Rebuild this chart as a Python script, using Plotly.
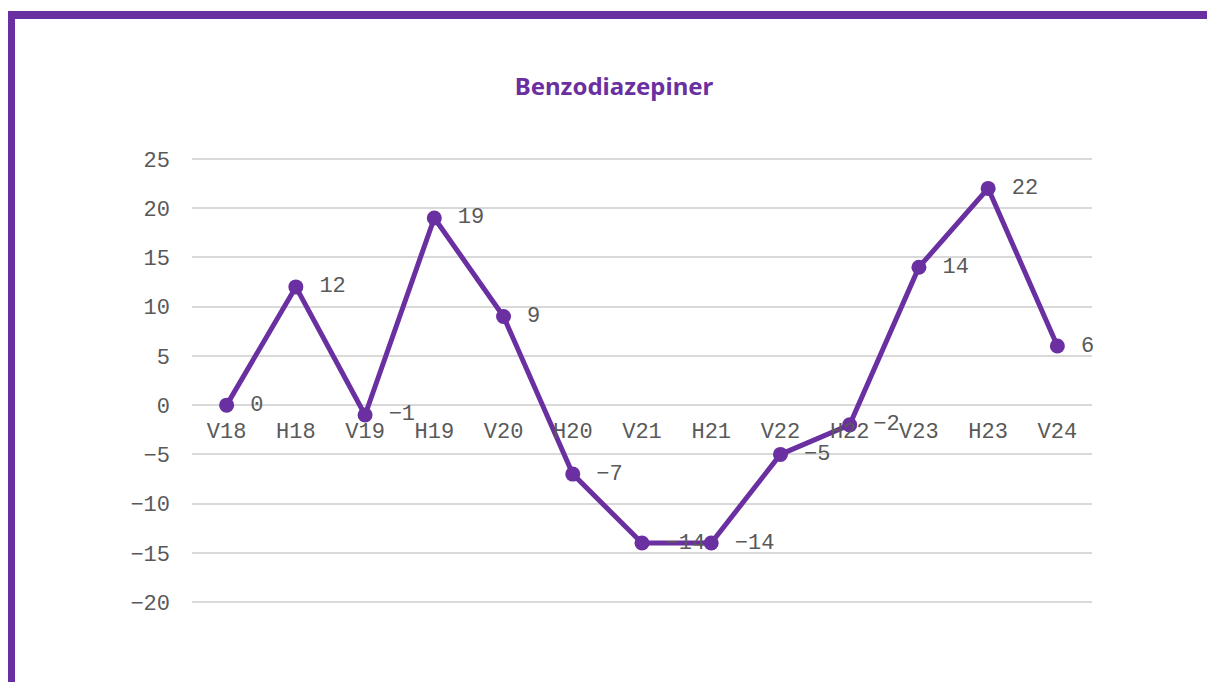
import plotly.graph_objects as go

categories = ["V18", "H18", "V19", "H19", "V20", "H20", "V21", "H21", "V22", "H22", "V23", "H23", "V24"]
values = [0, 12, -1, 19, 9, -7, -14, -14, -5, -2, 14, 22, 6]
y_ticks = [-20, -15, -10, -5, 0, 5, 10, 15, 20, 25]
y_range = [-21, 26]

# page body has an 8px margin, so the figure is drawn 8px in from the window edge
W, H = 1207, 674
L, R, T, B = 184, 123, 141, 70
PW, PH = W - L - R, H - T - B
PURPLE = "#6a2fa0"
MONO = "Liberation Mono, Courier New, monospace"
GRAY = "#595959"
FS = 22

def px_x(p):
    return (p - L) / PW

def px_y(p):
    return (H - B - p) / PH

fig = go.Figure()
fig.add_trace(go.Scatter(
    x=categories, y=values, mode="lines+markers+text",
    line=dict(color=PURPLE, width=5),
    marker=dict(color=PURPLE, size=15),
    text=["\u00a0" + str(v).replace("-", "\u2212") for v in values],
    textposition="middle right",
    textfont=dict(family=MONO, size=FS, color=GRAY),
    cliponaxis=False,
    hoverinfo="skip",
))

fig.update_layout(
    width=W, height=H, autosize=False,
    margin=dict(l=L, r=R, t=T, b=B),
    paper_bgcolor="white", plot_bgcolor="white",
    showlegend=False,
    title=dict(text="<b>Benzodiazepiner</b>", x=606 / W, xanchor="center",
               y=1 - 79 / H, yanchor="middle", xref="container", yref="container",
               font=dict(family="Noto Sans, Open Sans, sans-serif", size=24, color=PURPLE)),
    xaxis=dict(type="category", range=[-0.5, 12.5], showgrid=False, zeroline=False,
               showline=False, anchor="free",
               position=(0 - y_range[0]) / (y_range[1] - y_range[0]),
               tickfont=dict(family=MONO, size=FS, color=GRAY), ticks="",
               ticklabelstandoff=10),
    yaxis=dict(range=y_range, tickvals=y_ticks, showgrid=True, gridcolor="#d9d9d9",
               gridwidth=2, zeroline=False, showline=False,
               tickfont=dict(family=MONO, size=FS, color=GRAY), ticks="",
               ticklabelstandoff=21),
    shapes=[dict(type="rect", xref="paper", yref="paper",
                 x0=px_x(3), x1=px_x(1400), y0=px_y(900), y1=px_y(7),
                 line=dict(color=PURPLE, width=8), fillcolor="rgba(0,0,0,0)", layer="below")],
)

fig.write_html("out.html")
